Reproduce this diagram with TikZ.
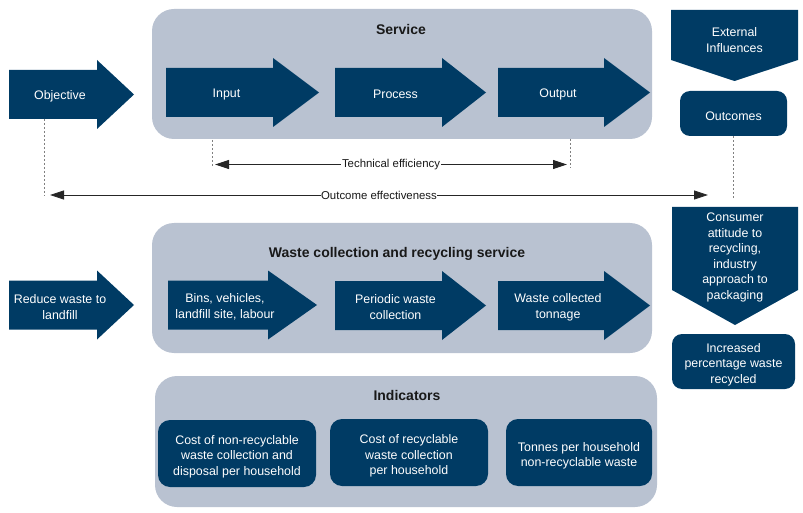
\documentclass[tikz,border=0pt]{standalone}
\usepackage{fontspec}
\setmainfont{Liberation Sans}
\usetikzlibrary{arrows.meta}

\definecolor{navy}{RGB}{0,59,100}
\definecolor{panel}{RGB}{185,194,209}

% #1 name, #2 tail x, #3 centre y, #4 body length, #5 head length, #6 text
\newcommand{\flowarrow}[6]{%
	\fill[navy] (#2,#3) ++(0,-24.5) -- ++(#4,0) -- ++(0,-10) -- ++(#5,34.5)
		-- ++(-#5,34.5) -- ++(0,-10) -- ++(-#4,0) -- cycle;
	\node[txt] (#1) at ({#2+#4/2+7},{#3+1.8}) {#6};
}

\begin{document}
\begin{tikzpicture}[x=1pt, y=-1pt,
	txt/.style={text=white, align=center, inner sep=0pt,
		font=\fontsize{12.4}{16}\selectfont},
	box/.style={fill=navy, rounded corners=10pt, inner sep=0pt},
	title/.style={anchor=base, text=black!90,
		font=\fontsize{14}{17}\selectfont\bfseries},
	dotline/.style={gray, line width=0.8pt, dash pattern=on 2pt off 2pt},
	span/.style={{Triangle[length=14pt,width=9pt]}-{Triangle[length=14pt,width=9pt]},
		line width=0.8pt, black!85},
	spanlabel/.style={fill=white, inner sep=0.6pt, text=black!90,
		font=\fontsize{11.4}{13}\selectfont}]

	\useasboundingbox (0,0) rectangle (803,513);

	\fill[panel, rounded corners=22pt] (152,9) rectangle (652,139);
	\node[title] (service) at (401,35) {Service};
	\fill[panel, rounded corners=22pt] (152,223) rectangle (652,353);
	\node[title] (wastetitle) at (397,257) {Waste collection and recycling service};
	\fill[panel, rounded corners=22pt] (155,376) rectangle (657,507);
	\node[title] (indicators) at (407,400) {Indicators};

	\flowarrow{objective}{9}{94.5}{88}{37}{Objective}
	\flowarrow{input}{166}{92.5}{107}{46}{Input}
	\flowarrow{process}{335}{92.5}{107}{44}{Process}
	\flowarrow{output}{498}{92.5}{106}{46}{Output}

	\flowarrow{reduce}{9}{305}{88}{37}{Reduce waste to\\landfill}
	\flowarrow{bins}{168}{305}{100}{49}{Bins, vehicles,\\landfill site, labour}
	\flowarrow{periodic}{335}{305.5}{107}{44}{Periodic waste\\collection}
	\flowarrow{tonnage}{498}{305.5}{106}{46}{Waste collected\\tonnage}

	\fill[navy] (671,10) -- (798,10) -- (798,60) -- (734.5,81) -- (671,60) -- cycle;
	\node[txt] (external) at (734.5,40.5) {External\\Influences};
	\node[box, minimum width=107, minimum height=45] (outcomes) at (733.5,113.5) {};
	\node[txt] (outcomestext) at (733.5,116.5) {Outcomes};

	\fill[navy] (672,207) -- (798,207) -- (798,290) -- (735,325) -- (672,290) -- cycle;
	\node[txt, font=\fontsize{12.4}{15.6}\selectfont] (consumer) at (735,257.5)
		{Consumer\\attitude to\\recycling,\\industry\\approach to\\packaging};
	\node[box, minimum width=123, minimum height=55] (recycled) at (733.5,361.5) {};
	\node[txt, font=\fontsize{12.4}{15.5}\selectfont] (recycledtext) at (733.5,364.5)
		{Increased\\percentage waste\\recycled};

	\node[box, rounded corners=12pt, minimum width=158, minimum height=67] (costnon)
		at (237,453.5) {};
	\node[box, rounded corners=12pt, minimum width=158, minimum height=67] (costrec)
		at (409,452.5) {};
	\node[box, rounded corners=12pt, minimum width=146, minimum height=67] (tonnes)
		at (579,452.5) {};
	\node[txt, font=\fontsize{12.4}{15.3}\selectfont] (costnontext) at (237,456.5)
		{Cost of non-recyclable\\waste collection and\\disposal per household};
	\node[txt, font=\fontsize{12.4}{15.3}\selectfont] (costrectext) at (409,456)
		{Cost of recyclable\\waste collection\\per household};
	\node[txt, font=\fontsize{12.4}{15.3}\selectfont] (tonnestext) at (579,456)
		{Tonnes per household\\non-recyclable waste};

	\coordinate (objtop)   at (44,119);
	\coordinate (objfoot)  at (44,196);
	\coordinate (intop)    at (212,140);
	\coordinate (infoot)   at (212,167);
	\coordinate (outtop)   at (570,139);
	\coordinate (outfoot)  at (570,168);
	\coordinate (rightfoot) at (733.5,198);

	\draw[dotline] (objtop) -- (objfoot);
	\draw[dotline] (intop) -- (infoot);
	\draw[dotline] (outtop) -- (outfoot);
	\draw[dotline] (outcomes.south) -- (rightfoot);

	\coordinate (tech-l) at (215,164.5);
	\coordinate (tech-r) at (567,164.5);
	\coordinate (eff-l)  at (50,195);
	\coordinate (eff-r)  at (708,195);

	\draw[span] (tech-l) -- node[spanlabel] (techlabel) {Technical efficiency} (tech-r);
	\draw[span] (eff-l) -- node[spanlabel] (efflabel) {Outcome effectiveness} (eff-r);
\end{tikzpicture}
\end{document}
